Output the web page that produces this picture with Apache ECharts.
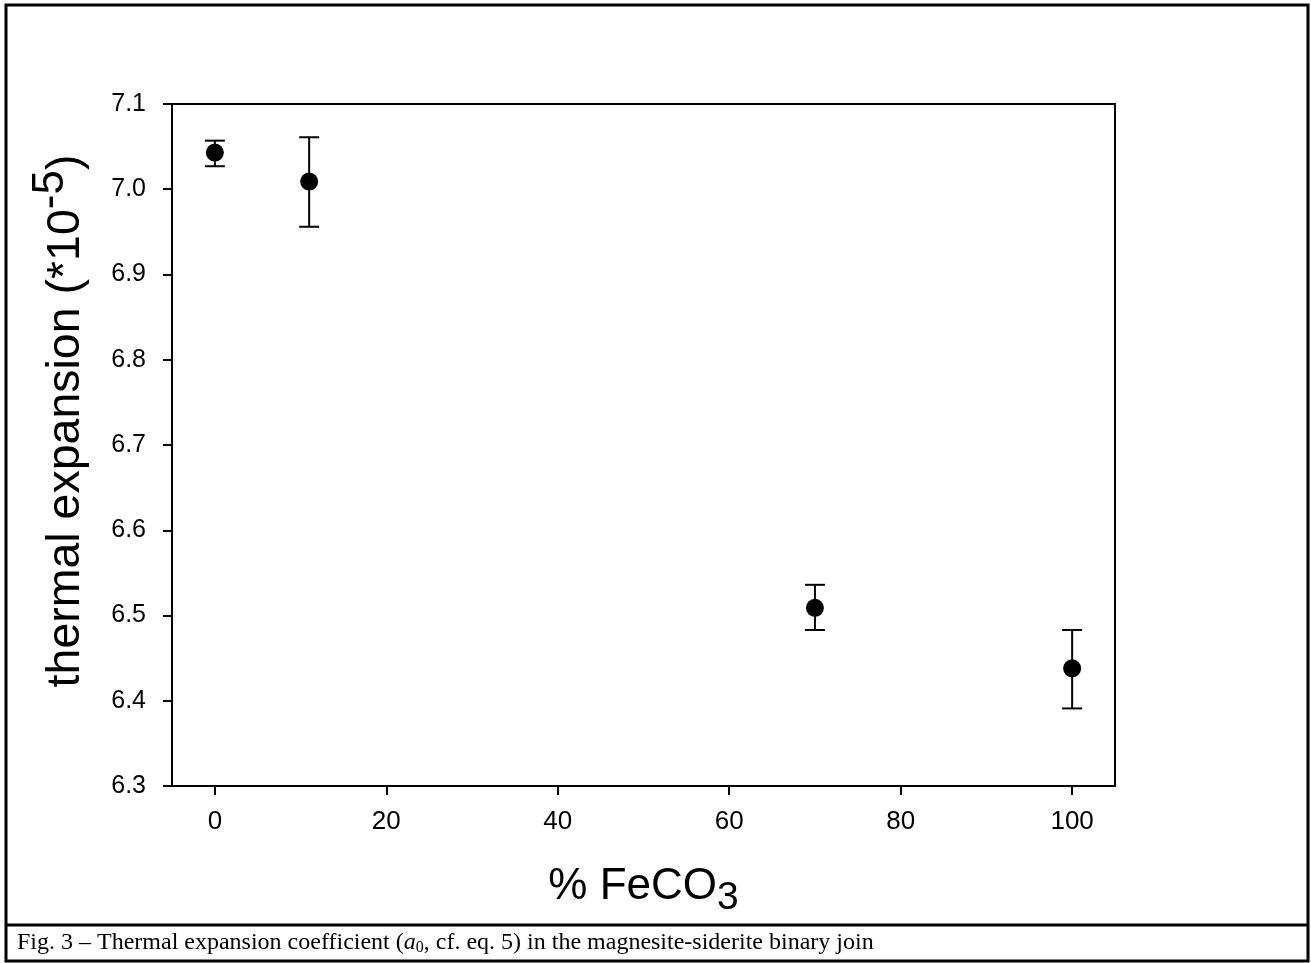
<!DOCTYPE html>
<html>
<head>
    <meta charset="UTF-8">
    <title>Thermal expansion coefficient</title>
    <script src="https://cdn.jsdelivr.net/npm/echarts@6/dist/echarts.min.js"></script>
    <style>
        html, body { margin: 0; padding: 0; background: #fff; }
        #main { width: 1311px; height: 963px; }
    </style>
</head>
<body>
    <div id="main"></div>
    <script>
        // data
        const feco3 = [0, 11, 70, 100];
        const alpha = [7.043, 7.009, 6.509, 6.438];
        const errLow = [7.027, 6.956, 6.483, 6.391];
        const errHigh = [7.057, 7.061, 6.536, 6.483];
        const xTicks = [0, 20, 40, 60, 80, 100];

        const font = 'Liberation Sans, Arial, sans-serif';
        const serif = 'Liberation Serif, Times New Roman, serif';

        const chart = echarts.init(document.getElementById('main'));
        const option = {
            backgroundColor: '#fff',
            animation: false,
            grid: { left: 172, right: 196, top: 104, bottom: 177, show: true, borderColor: '#000', borderWidth: 2, backgroundColor: 'transparent' },
            xAxis: {
                type: 'value', min: -5, max: 105,
                name: '{a|% FeCO}{s|3}',
                nameLocation: 'middle', nameGap: 69,
                nameTextStyle: {
                    rich: {
                        a: { fontFamily: font, fontSize: 44, color: '#000' },
                        s: { fontFamily: font, fontSize: 39, color: '#000', padding: [24, 0, 0, 0] }
                    }
                },
                axisLine: { show: true, onZero: false, lineStyle: { color: '#000', width: 2 } },
                axisTick: { show: true, inside: false, length: 9, lineStyle: { color: '#000', width: 2 },
                    customValues: xTicks },
                axisLabel: { fontFamily: font, fontSize: 26, color: '#000', margin: 23,
                    customValues: xTicks },
                splitLine: { show: false }
            },
            yAxis: {
                type: 'value', min: 6.3, max: 7.1, interval: 0.1,
                axisLine: { show: true, onZero: false, lineStyle: { color: '#000', width: 2 } },
                axisTick: { show: true, inside: false, length: 9, lineStyle: { color: '#000', width: 2 } },
                axisLabel: { fontFamily: font, fontSize: 25, color: '#000', margin: 26,
                    formatter: v => v.toFixed(1) },
                splitLine: { show: false }
            },
            series: [
                {
                    type: 'custom',
                    data: feco3.map((x, i) => [x, errLow[i], errHigh[i]]),
                    renderItem: function (params, api) {
                        const lo = api.coord([api.value(0), api.value(1)]);
                        const hi = api.coord([api.value(0), api.value(2)]);
                        const hw = 10;
                        const st = { stroke: '#000', lineWidth: 2 };
                        return {
                            type: 'group',
                            children: [
                                { type: 'line', shape: { x1: lo[0], y1: lo[1], x2: hi[0], y2: hi[1] }, style: st },
                                { type: 'line', shape: { x1: lo[0] - hw, y1: lo[1], x2: lo[0] + hw, y2: lo[1] }, style: st },
                                { type: 'line', shape: { x1: hi[0] - hw, y1: hi[1], x2: hi[0] + hw, y2: hi[1] }, style: st }
                            ]
                        };
                    },
                    z: 2
                },
                {
                    type: 'scatter',
                    data: feco3.map((x, i) => [x, alpha[i]]),
                    symbol: 'circle',
                    symbolSize: 18,
                    itemStyle: { color: '#000', opacity: 1 },
                    z: 3
                }
            ],
            graphic: [
                // y axis title
                { type: 'text', x: 66, y: 421, rotation: Math.PI / 2,
                  style: {
                      text: '{a|thermal expansion (*10}{s|-5}{a|)}',
                      align: 'center', verticalAlign: 'middle',
                      rich: {
                          a: { fontFamily: font, fontSize: 46.5, fill: '#000' },
                          s: { fontFamily: font, fontSize: 44, fill: '#000', padding: [0, 0, 30, 0] }
                      }
                  } },
                // outer frame and caption box
                { type: 'rect', shape: { x: 6, y: 5, width: 1302, height: 956 },
                  style: { fill: 'none', stroke: '#000', lineWidth: 3 } },
                { type: 'line', shape: { x1: 6, y1: 925, x2: 1308, y2: 925 },
                  style: { stroke: '#000', lineWidth: 3 } },
                { type: 'text', left: 17, top: 931,
                  style: {
                      text: '{t|Fig. 3 – Thermal expansion coefficient (}{i|a}{b|0}{t|, cf. eq. 5) in the magnesite-siderite binary join}',
                      rich: {
                          t: { fontFamily: serif, fontSize: 24, fill: '#000' },
                          i: { fontFamily: serif, fontSize: 24, fontStyle: 'italic', fill: '#000' },
                          b: { fontFamily: serif, fontSize: 16, fill: '#000', padding: [10, 0, 0, 0] }
                      }
                  } }
            ]
        };
        chart.setOption(option);
    </script>
</body>
</html>
